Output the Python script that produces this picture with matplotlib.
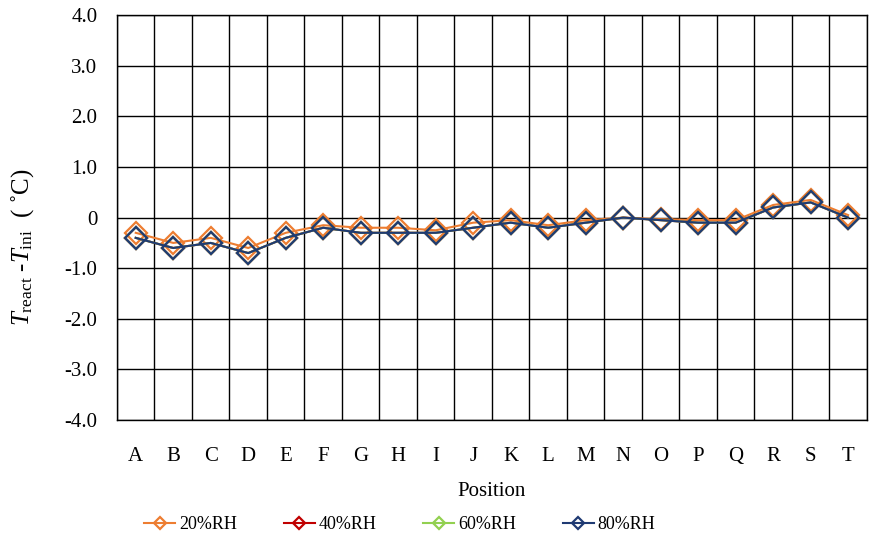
import matplotlib.pyplot as plt
import matplotlib.ticker as tkr

positions = list("ABCDEFGHIJKLMNOPQRST")

rh20 = [-0.3, -0.5, -0.4, -0.6, -0.3, -0.15, -0.2, -0.2, -0.25, -0.1,
        -0.05, -0.15, -0.05, 0.0, -0.03, -0.05, -0.05, 0.25, 0.35, 0.05]
rh40 = [-0.4, -0.6, -0.5, -0.7, -0.4, -0.2, -0.3, -0.3, -0.3, -0.2,
        -0.1, -0.2, -0.1, 0.0, -0.05, -0.1, -0.1, 0.2, 0.3, 0.0]
rh60 = [-0.4, -0.6, -0.5, -0.7, -0.4, -0.2, -0.3, -0.3, -0.3, -0.2,
        -0.1, -0.2, -0.1, 0.0, -0.05, -0.1, -0.1, 0.2, 0.3, 0.0]
rh80 = [-0.4, -0.6, -0.5, -0.7, -0.4, -0.2, -0.3, -0.3, -0.3, -0.2,
        -0.1, -0.2, -0.1, 0.0, -0.05, -0.1, -0.1, 0.2, 0.3, 0.0]

labels = ["20%RH", "40%RH", "60%RH", "80%RH"]
colors = ["#ED7D31", "#C00000", "#92D050", "#1F3A73"]

plt.rcParams['font.family'] = ['Liberation Serif', 'DejaVu Serif']
plt.rcParams['mathtext.fontset'] = 'custom'
plt.rcParams['mathtext.rm'] = 'Liberation Serif'
plt.rcParams['mathtext.it'] = 'Liberation Serif:italic'

fig = plt.figure(figsize=(8.73, 5.4), dpi=100)
ax = fig.add_axes([0.134, 0.222, 0.859, 0.750])

x = list(range(len(positions)))
for y, lab, c in zip([rh20, rh40, rh60, rh80], labels, colors):
    ax.plot(x, y, color=c, lw=1.5, marker='D', ms=11.5, mfc='none',
            mec=c, mew=1.6, label=lab)

ax.set_xlim(-0.5, len(positions) - 0.5)
ax.set_ylim(-4, 4)
ax.set_xticks(x)
ax.set_xticklabels(positions)
ax.xaxis.set_minor_locator(tkr.FixedLocator([i - 0.5 for i in range(len(positions) + 1)]))
ax.yaxis.set_major_locator(tkr.MultipleLocator(1.0))
ax.yaxis.set_major_formatter(tkr.FuncFormatter(lambda v, p: "0" if abs(v) < 1e-9 else "%.1f" % v))

ax.grid(which='minor', axis='x', color='black', lw=1.0)
ax.grid(which='major', axis='y', color='black', lw=1.0)
ax.set_axisbelow(True)
ax.tick_params(which='both', length=0, labelsize=15)
ax.tick_params(axis='x', pad=19)
ax.tick_params(axis='y', pad=14)
for s in ax.spines.values():
    s.set_color('black')
    s.set_linewidth(1.0)

ax.set_xlabel("Position", fontsize=15, labelpad=12)
ax.set_ylabel(r"$T_{\rm react}$ -$T_{\rm ini}$  ( ˚C)", fontsize=18)
ax.yaxis.set_label_coords(-0.108, 0.427)

fig.legend(loc='center', bbox_to_anchor=(0.458, 0.028), ncol=4, frameon=False,
           fontsize=13, markerscale=0.55, handlelength=1.7, columnspacing=2.6,
           handletextpad=0.22)

fig.savefig("out.png", dpi=100)
